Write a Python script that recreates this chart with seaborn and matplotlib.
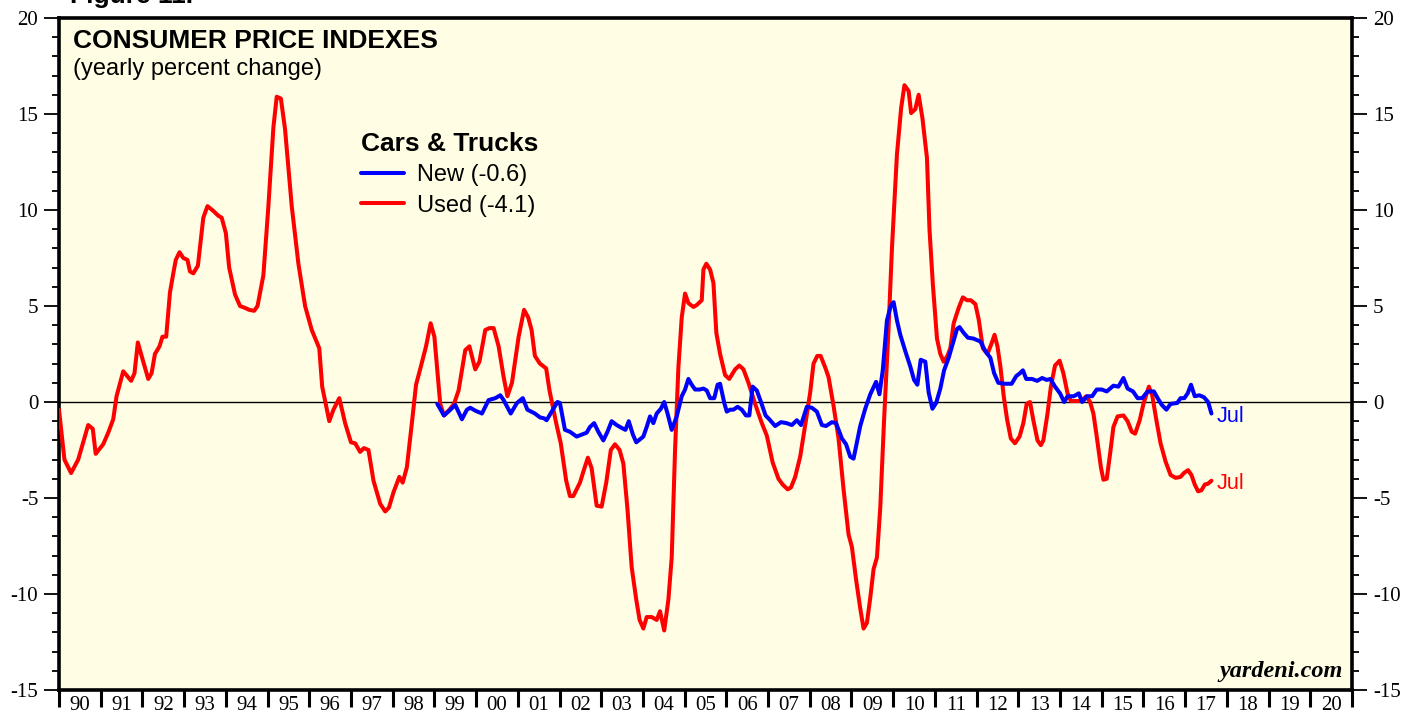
import matplotlib
matplotlib.use('Agg')
import matplotlib.pyplot as plt
import seaborn as sns
import numpy as np
from matplotlib.ticker import MultipleLocator, FixedLocator, NullFormatter

# CPI used cars & trucks, yearly % change (decimal year, value)
used_t = [1990.00, 1990.13, 1990.29, 1990.46, 1990.58, 1990.70, 1990.81, 1990.88, 1991.06, 1991.18,
          1991.30, 1991.38, 1991.54, 1991.73, 1991.81, 1991.89, 1992.02, 1992.14, 1992.22, 1992.30,
          1992.41, 1992.48, 1992.57, 1992.66, 1992.74, 1992.80, 1992.89, 1992.98, 1993.08, 1993.14,
          1993.22, 1993.33, 1993.46, 1993.56, 1993.70, 1993.82, 1993.90, 1994.00, 1994.08, 1994.22,
          1994.34, 1994.46, 1994.56, 1994.68, 1994.76, 1994.90, 1995.02, 1995.14, 1995.22, 1995.32,
          1995.42, 1995.58, 1995.74, 1995.90, 1996.06, 1996.24, 1996.31, 1996.48, 1996.58, 1996.72,
          1996.86, 1997.00, 1997.10, 1997.22, 1997.31, 1997.42, 1997.54, 1997.70, 1997.82, 1997.91,
          1998.02, 1998.16, 1998.24, 1998.34, 1998.46, 1998.56, 1998.67, 1998.80, 1998.91, 1999.00,
          1999.14, 1999.23, 1999.36, 1999.47, 1999.58, 1999.74, 1999.84, 1999.98, 2000.08, 2000.22,
          2000.32, 2000.42, 2000.54, 2000.66, 2000.75, 2000.86, 2001.02, 2001.15, 2001.25, 2001.33,
          2001.41, 2001.53, 2001.68, 2001.76, 2001.92, 2002.03, 2002.16, 2002.25, 2002.33, 2002.49,
          2002.59, 2002.68, 2002.77, 2002.89, 2003.01, 2003.12, 2003.23, 2003.33, 2003.44, 2003.53,
          2003.63, 2003.73, 2003.84, 2003.92, 2004.01, 2004.09, 2004.21, 2004.33, 2004.41, 2004.51,
          2004.61, 2004.69, 2004.77, 2004.85, 2004.93, 2005.01, 2005.09, 2005.21, 2005.29, 2005.41,
          2005.45, 2005.52, 2005.61, 2005.69, 2005.76, 2005.85, 2005.97, 2006.07, 2006.21, 2006.31,
          2006.41, 2006.53, 2006.69, 2006.85, 2006.97, 2007.11, 2007.25, 2007.35, 2007.47, 2007.55,
          2007.65, 2007.77, 2007.89, 2008.01, 2008.09, 2008.18, 2008.26, 2008.37, 2008.45, 2008.57,
          2008.69, 2008.81, 2008.93, 2009.01, 2009.11, 2009.21, 2009.29, 2009.37, 2009.45, 2009.53,
          2009.61, 2009.69, 2009.78, 2009.89, 2009.97, 2010.09, 2010.19, 2010.27, 2010.37, 2010.43,
          2010.53, 2010.61, 2010.70, 2010.81, 2010.87, 2010.95, 2011.05, 2011.13, 2011.21, 2011.30,
          2011.37, 2011.45, 2011.57, 2011.67, 2011.77, 2011.86, 2011.97, 2012.05, 2012.15, 2012.26,
          2012.35, 2012.43, 2012.50, 2012.57, 2012.65, 2012.73, 2012.82, 2012.92, 2013.03, 2013.12,
          2013.20, 2013.28, 2013.36, 2013.46, 2013.54, 2013.60, 2013.70, 2013.78, 2013.88, 2013.99,
          2014.08, 2014.18, 2014.26, 2014.39, 2014.50, 2014.63, 2014.72, 2014.80, 2014.88, 2014.98,
          2015.04, 2015.12, 2015.20, 2015.28, 2015.38, 2015.52, 2015.62, 2015.72, 2015.80, 2015.91,
          2016.00, 2016.13, 2016.21, 2016.31, 2016.41, 2016.53, 2016.65, 2016.77, 2016.89, 2016.97,
          2017.07, 2017.15, 2017.23, 2017.31, 2017.39, 2017.47, 2017.55, 2017.63]
used_v = [-0.4, -3.0, -3.7, -3.0, -2.1, -1.2, -1.4, -2.7, -2.2, -1.6,
          -0.9, 0.3, 1.6, 1.1, 1.5, 3.1, 2.1, 1.2, 1.5, 2.5,
          2.9, 3.4, 3.4, 5.7, 6.7, 7.4, 7.8, 7.5, 7.4, 6.8,
          6.7, 7.1, 9.6, 10.2, 9.95, 9.7, 9.6, 8.8, 7.0, 5.6,
          5.0, 4.9, 4.8, 4.75, 5.0, 6.6, 10.2, 14.3, 15.9, 15.8,
          14.2, 10.2, 7.2, 5.0, 3.75, 2.8, 0.8, -1.0, -0.4, 0.2,
          -1.1, -2.1, -2.15, -2.6, -2.4, -2.5, -4.1, -5.3, -5.7, -5.5,
          -4.7, -3.9, -4.2, -3.4, -1.1, 0.9, 1.8, 2.9, 4.1, 3.4,
          -0.1, -0.7, -0.4, -0.1, 0.6, 2.7, 2.9, 1.7, 2.1, 3.75,
          3.85, 3.85, 2.9, 1.3, 0.3, 1.0, 3.4, 4.8, 4.4, 3.75,
          2.4, 2.0, 1.75, 0.6, -1.1, -2.15, -4.1, -4.9, -4.9, -4.2,
          -3.5, -2.9, -3.45, -5.4, -5.45, -4.2, -2.5, -2.2, -2.5, -3.2,
          -5.6, -8.6, -10.3, -11.35, -11.8, -11.2, -11.2, -11.35, -10.9, -11.9,
          -10.3, -8.1, -2.5, 1.8, 4.4, 5.65, 5.15, 4.95, 5.05, 5.3,
          6.9, 7.2, 6.9, 6.2, 3.6, 2.5, 1.4, 1.2, 1.7, 1.9,
          1.7, 1.0, -0.1, -1.1, -1.75, -3.15, -4.0, -4.3, -4.55, -4.45,
          -3.9, -2.85, -1.2, 0.5, 2.0, 2.4, 2.4, 1.8, 1.3, -0.2,
          -1.9, -4.55, -6.9, -7.55, -9.25, -10.75, -11.8, -11.5, -10.2, -8.7,
          -8.1, -5.5, -1.0, 3.9, 8.0, 12.9, 15.3, 16.5, 16.2, 15.05,
          15.25, 16.0, 14.8, 12.7, 9.0, 6.15, 3.3, 2.5, 2.1, 2.4,
          2.8, 4.1, 4.9, 5.45, 5.3, 5.3, 5.1, 4.3, 2.8, 2.5,
          3.0, 3.5, 2.9, 1.85, 0.3, -0.9, -1.9, -2.15, -1.8, -1.1,
          -0.1, 0.0, -0.95, -2.0, -2.25, -2.0, -0.6, 0.8, 1.9, 2.15,
          1.5, 0.45, 0.05, 0.05, 0.05, 0.3, 0.0, -0.6, -1.8, -3.4,
          -4.05, -4.0, -2.7, -1.3, -0.75, -0.7, -1.0, -1.55, -1.65, -0.95,
          -0.1, 0.8, 0.35, -0.95, -2.15, -3.1, -3.8, -3.95, -3.9, -3.7,
          -3.55, -3.8, -4.3, -4.65, -4.6, -4.3, -4.25, -4.1]

# CPI new cars & trucks, yearly % change
new_t = [1999.07, 1999.23, 1999.36, 1999.50, 1999.66, 1999.78, 1999.86, 1999.98, 2000.14, 2000.30,
         2000.46, 2000.58, 2000.66, 2000.83, 2000.98, 2001.12, 2001.23, 2001.41, 2001.53, 2001.63,
         2001.69, 2001.84, 2001.95, 2002.01, 2002.13, 2002.25, 2002.41, 2002.53, 2002.65, 2002.73,
         2002.83, 2002.93, 2003.05, 2003.15, 2003.25, 2003.37, 2003.49, 2003.58, 2003.66, 2003.76,
         2003.84, 2004.01, 2004.09, 2004.17, 2004.25, 2004.33, 2004.43, 2004.51, 2004.59, 2004.69,
         2004.81, 2004.93, 2005.01, 2005.09, 2005.17, 2005.25, 2005.36, 2005.45, 2005.53, 2005.61,
         2005.71, 2005.79, 2005.85, 2005.95, 2006.01, 2006.09, 2006.17, 2006.27, 2006.37, 2006.47,
         2006.55, 2006.63, 2006.73, 2006.83, 2006.94, 2007.03, 2007.17, 2007.31, 2007.44, 2007.57,
         2007.69, 2007.79, 2007.93, 2008.05, 2008.17, 2008.29, 2008.39, 2008.53, 2008.63, 2008.77,
         2008.87, 2008.97, 2009.05, 2009.13, 2009.21, 2009.33, 2009.45, 2009.59, 2009.67, 2009.75,
         2009.85, 2009.94, 2010.01, 2010.09, 2010.17, 2010.29, 2010.41, 2010.50, 2010.58, 2010.66,
         2010.77, 2010.85, 2010.94, 2011.03, 2011.13, 2011.22, 2011.33, 2011.43, 2011.53, 2011.59,
         2011.69, 2011.79, 2011.93, 2012.09, 2012.21, 2012.33, 2012.42, 2012.52, 2012.68, 2012.84,
         2012.95, 2013.04, 2013.11, 2013.19, 2013.33, 2013.45, 2013.57, 2013.68, 2013.77, 2013.88,
         2014.00, 2014.10, 2014.18, 2014.33, 2014.45, 2014.53, 2014.65, 2014.77, 2014.88, 2015.00,
         2015.12, 2015.28, 2015.40, 2015.52, 2015.62, 2015.75, 2015.86, 2015.97, 2016.10, 2016.25,
         2016.34, 2016.44, 2016.55, 2016.65, 2016.81, 2016.89, 2016.98, 2017.06, 2017.14, 2017.23,
         2017.34, 2017.45, 2017.55, 2017.63]
new_v = [-0.1, -0.7, -0.45, -0.15, -0.9, -0.4, -0.3, -0.45, -0.6, 0.1,
         0.2, 0.35, 0.1, -0.6, -0.05, 0.2, -0.4, -0.6, -0.8, -0.85,
         -0.95, -0.4, 0.0, -0.05, -1.45, -1.55, -1.8, -1.7, -1.6, -1.3,
         -1.1, -1.55, -2.0, -1.55, -1.0, -1.2, -1.35, -1.45, -1.0, -1.7,
         -2.1, -1.8, -1.3, -0.75, -1.1, -0.6, -0.35, 0.0, -0.6, -1.45,
         -0.75, 0.3, 0.65, 1.2, 0.9, 0.65, 0.65, 0.7, 0.6, 0.2,
         0.2, 0.9, 0.95, -0.05, -0.5, -0.4, -0.4, -0.25, -0.4, -0.7,
         -0.7, 0.8, 0.6, 0.0, -0.7, -0.9, -1.25, -1.05, -1.1, -1.2,
         -0.95, -1.2, -0.25, -0.3, -0.5, -1.2, -1.25, -1.05, -1.1, -1.9,
         -2.2, -2.85, -2.95, -2.1, -1.25, -0.35, 0.4, 1.05, 0.4, 1.65,
         4.25, 5.0, 5.2, 4.25, 3.5, 2.65, 1.85, 1.15, 0.9, 2.2,
         2.1, 0.5, -0.35, -0.05, 0.7, 1.65, 2.3, 3.05, 3.8, 3.9,
         3.6, 3.35, 3.3, 3.15, 2.65, 2.3, 1.5, 1.0, 0.95, 0.95,
         1.35, 1.5, 1.65, 1.2, 1.2, 1.1, 1.25, 1.15, 1.2, 0.8,
         0.45, 0.0, 0.3, 0.3, 0.45, 0.0, 0.3, 0.3, 0.65, 0.65,
         0.55, 0.85, 0.8, 1.25, 0.7, 0.55, 0.2, 0.2, 0.55, 0.55,
         0.2, -0.15, -0.4, -0.1, -0.05, 0.2, 0.2, 0.45, 0.9, 0.3,
         0.35, 0.25, 0.0, -0.6]

year_labels = ['90', '91', '92', '93', '94', '95', '96', '97', '98', '99', '00', '01', '02', '03', '04', '05',
               '06', '07', '08', '09', '10', '11', '12', '13', '14', '15', '16', '17', '18', '19', '20']

sns.set_style('ticks')
plt.rcParams['font.family'] = ['Liberation Sans', 'DejaVu Sans']
plt.rcParams['text.color'] = 'black'
plt.rcParams['axes.unicode_minus'] = False

fig = plt.figure(figsize=(14.21, 7.21), dpi=100)
ax = fig.add_axes([59 / 1421, 31 / 721, 1293 / 1421, 672 / 721])
ax.set_facecolor('#FFFEE4')

ax.axhline(0, color='black', linewidth=1.0, zorder=1)
sns.lineplot(x=used_t, y=used_v, ax=ax, color='#FF0000', linewidth=2.9, label='Used (-4.1)', zorder=3)
sns.lineplot(x=new_t, y=new_v, ax=ax, color='#0000FF', linewidth=2.9, label='New (-0.6)', zorder=4)

ax.set_xlim(1990, 2021)
ax.set_ylim(-15, 20)
ax.set_xlabel('')
ax.set_ylabel('')

# y axis: ticks both sides
ax.yaxis.set_major_locator(MultipleLocator(5))
ax.yaxis.set_minor_locator(MultipleLocator(1))
ax.tick_params(axis='y', which='both', direction='out', left=True, right=True,
               labelleft=True, labelright=True, width=1.3, colors='black')
ax.tick_params(axis='y', which='major', length=11, pad=4, labelsize=15)
ax.tick_params(axis='y', which='minor', length=5)

# x axis: ticks at year boundaries, labels mid-year
years = list(range(1990, 2022))
ax.xaxis.set_major_locator(FixedLocator(years))
ax.xaxis.set_major_formatter(NullFormatter())
ax.xaxis.set_minor_locator(FixedLocator([y + 0.5 for y in years[:-1]]))
ax.xaxis.set_minor_formatter(plt.FixedFormatter(year_labels))
ax.tick_params(axis='x', which='major', direction='out', length=12, width=2.2, colors='black')
ax.tick_params(axis='x', which='minor', length=0, pad=4.3, labelsize=15, colors='black')

for lab in ax.get_yticklabels() + ax.get_xticklabels(minor=True):
    lab.set_fontfamily('Liberation Serif')

for s in ax.spines.values():
    s.set_visible(True)
    s.set_linewidth(2.6)
    s.set_color('black')

# legend
handles, labels = ax.get_legend_handles_labels()
order = [labels.index('New (-0.6)'), labels.index('Used (-4.1)')]
leg = ax.legend([handles[i] for i in order], [labels[i] for i in order],
                title='Cars & Trucks', loc='upper left', bbox_to_anchor=(0.226, 0.845),
                frameon=False, fontsize=17, handlelength=1.85, handletextpad=0.55,
                labelspacing=0.36, borderaxespad=0)
leg.get_title().set_fontweight('bold')
leg.get_title().set_fontsize(19)
leg._legend_box.align = 'left'
for h in leg.get_lines():
    h.set_linewidth(2.9)

# titles and annotations
ax.text(0.011, 0.9554, 'CONSUMER PRICE INDEXES', transform=ax.transAxes, fontsize=19,
        fontweight='bold', va='baseline', ha='left')
ax.text(0.011, 0.915, '(yearly percent change)', transform=ax.transAxes, fontsize=17,
        va='baseline', ha='left')
fig.text(70 / 1421, 1 - 3 / 721, 'Figure 11.', fontsize=19, fontweight='bold', va='baseline', ha='left')

ax.text(new_t[-1] + 0.12, new_v[-1] - 0.15, 'Jul', color='#0000FF', fontsize=15.5, va='center', ha='left')
ax.text(used_t[-1] + 0.12, used_v[-1] - 0.15, 'Jul', color='#FF0000', fontsize=15.5, va='center', ha='left')

ax.text(0.993, 0.0193, 'yardeni.com', transform=ax.transAxes, fontsize=17.5, fontweight='bold',
        fontstyle='italic', fontfamily='Liberation Serif', ha='right', va='baseline')

fig.savefig('out.png', dpi=100, facecolor='white')
